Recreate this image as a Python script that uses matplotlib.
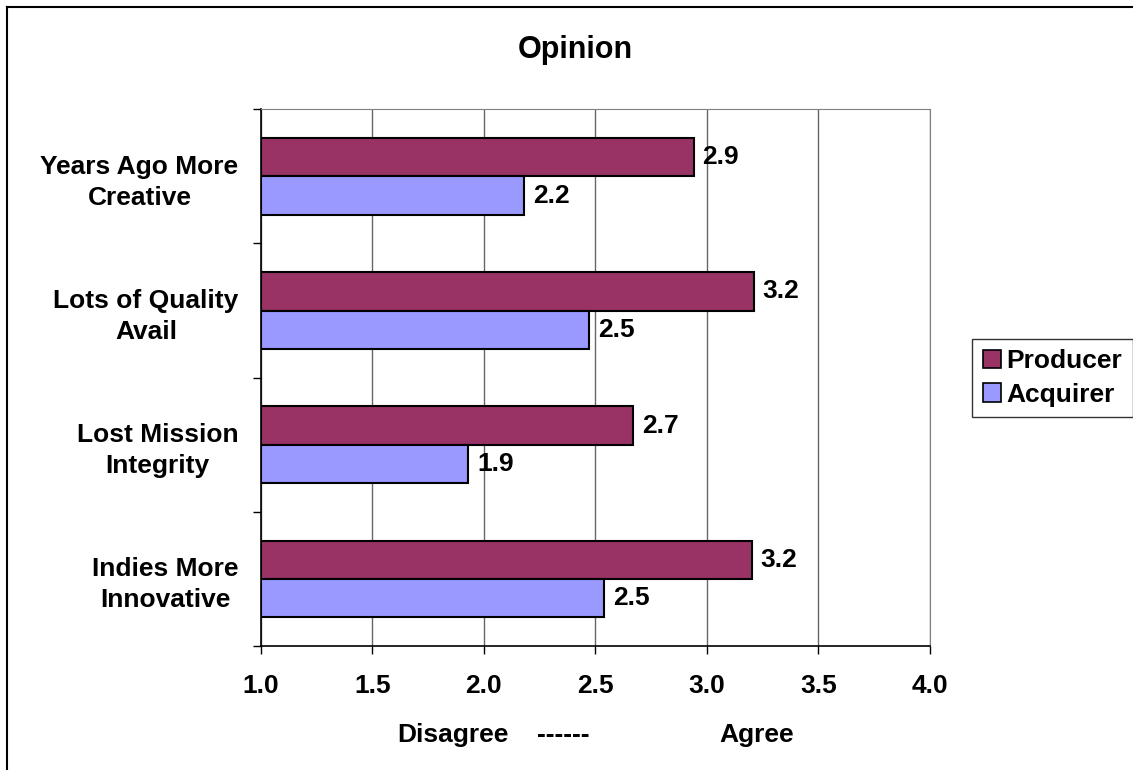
import matplotlib
matplotlib.use("Agg")
import matplotlib.pyplot as plt
from matplotlib.lines import Line2D
from matplotlib.patches import Patch

categories = ["Years Ago More\nCreative", "Lots of Quality\nAvail", "Lost Mission\nIntegrity", "Indies More\nInnovative"]
producer = [2.94, 3.21, 2.67, 3.20]
acquirer = [2.18, 2.47, 1.93, 2.54]
series_names = ["Producer", "Acquirer"]
xticks = [1.0, 1.5, 2.0, 2.5, 3.0, 3.5, 4.0]

plt.rcParams['font.family'] = ['Liberation Sans', 'DejaVu Sans']
plt.rcParams['font.weight'] = 'bold'

FS = 19
W, H = 1133, 770
fig = plt.figure(figsize=(W/100, H/100), dpi=100)
ax = fig.add_axes([260.7/W, 1-646/H, (930-260.7)/W, (646-109.3)/H])

c_prod = "#993366"
c_acq = "#9999FF"
bh = 0.285
base = 1.0
for i, (p, a) in enumerate(zip(producer, acquirer)):
    ax.barh(i - bh/2, p - base, left=base, height=bh, color=c_prod, edgecolor="black", linewidth=1.5, zorder=3)
    ax.barh(i + bh/2, a - base, left=base, height=bh, color=c_acq, edgecolor="black", linewidth=1.5, zorder=3)
    ax.annotate(f"{p:.1f}", (p, i - bh/2), xytext=(6.5, 0), textcoords="offset points",
                va="center", ha="left", fontsize=FS, fontweight="bold", zorder=4)
    ax.annotate(f"{a:.1f}", (a, i + bh/2), xytext=(6.5, 0), textcoords="offset points",
                va="center", ha="left", fontsize=FS, fontweight="bold", zorder=4)

ax.set_xlim(1.0, 4.0)
ax.set_ylim(3.5, -0.5)
ax.set_xticks(xticks)
ax.set_xticklabels([f"{t:.1f}" for t in xticks], fontsize=FS, fontweight="bold")
ax.set_yticks([-0.5, 0.5, 1.5, 2.5, 3.5])
ax.set_yticklabels([])
ax.set_yticks(range(len(categories)), minor=True)
ax.set_yticklabels(categories, minor=True, fontsize=FS, fontweight="bold", ha="right", linespacing=1.35)
for lab in ax.get_yticklabels(minor=True):
    lab.set_multialignment("center")
ax.tick_params(axis="y", which="minor", length=0, pad=16)
ax.tick_params(axis="y", which="major", length=6, direction="out", width=1)
ax.tick_params(axis="x", length=6, direction="out", width=1, pad=14)

ax.grid(axis="x", color="#666666", linewidth=1, zorder=0)
for s in ["top", "right"]:
    ax.spines[s].set_color("#808080")
for s in ["left", "bottom"]:
    ax.spines[s].set_color("black")
    ax.spines[s].set_linewidth(1.2)

fig.text(575/W, 1-50/H, "Opinion", ha="center", va="center", fontsize=22, fontweight="bold")
fig.text(453/W, 1-735/H, "Disagree", ha="center", va="center", fontsize=FS, fontweight="bold")
fig.text(563/W, 1-735/H, "------", ha="center", va="center", fontsize=FS, fontweight="bold")
fig.text(757/W, 1-735/H, "Agree", ha="center", va="center", fontsize=FS, fontweight="bold")

handles = [Patch(facecolor=c_prod, edgecolor="black", linewidth=1.2),
           Patch(facecolor=c_acq, edgecolor="black", linewidth=1.2)]
leg = fig.legend(handles, series_names, loc="center left", bbox_to_anchor=(972/W, 1-378/H),
                 prop={"size": FS, "weight": "bold"}, frameon=True, fancybox=False,
                 edgecolor="black", handlelength=0.7, handleheight=0.7, handletextpad=0.2,
                 borderpad=0.4, labelspacing=0.35, borderaxespad=0)
leg.get_frame().set_linewidth(1)

fig.add_artist(Line2D([7/W, 7/W], [0, 1-7/H], color="black", linewidth=1.5, transform=fig.transFigure))
fig.add_artist(Line2D([7/W, 1], [1-7/H, 1-7/H], color="black", linewidth=1.5, transform=fig.transFigure))

fig.savefig("out.png", dpi=100, facecolor="white")
